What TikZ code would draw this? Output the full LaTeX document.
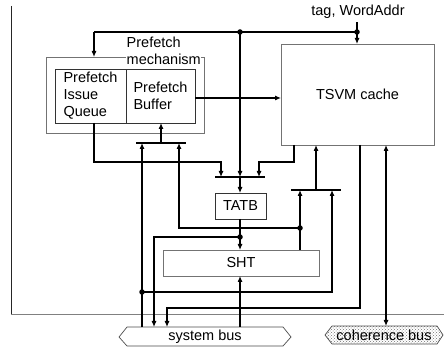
\documentclass[tikz,border=0pt]{standalone}
\usepackage{fontspec}
\setmainfont{Liberation Sans}
\usetikzlibrary{arrows.meta,patterns}
\begin{document}
\begin{tikzpicture}[x=1pt,y=-1pt,
  font=\fontsize{14.5}{17}\selectfont,
  wire/.style={line width=1.1pt},
  arr/.style={wire,-{Latex[length=6pt,width=5pt]}},
  darr/.style={wire,{Latex[length=6pt,width=5pt]}-{Latex[length=6pt,width=5pt]}},
  busbar/.style={line width=2.2pt},
  jdot/.style={circle,fill=black,inner sep=0pt,minimum size=5.5pt},
  gbox/.style={draw=black!55,line width=0.8pt,inner sep=0pt,outer sep=0pt},
  dbox/.style={draw=black!80,line width=0.8pt,inner sep=0pt,outer sep=0pt},
  busline/.style={draw=black!70,line width=0.7pt},
]
\useasboundingbox (0,0) rectangle (444,352);
% frame
\draw[line width=0.9pt,black!85] (11,6) -- (11,314);
\draw[line width=0.8pt,black!50] (11,314) -- (444,314);

% boxes
\node[gbox,minimum width=158pt,minimum height=76pt] (pm) at (125,95) {};
\node[dbox,minimum width=71pt,minimum height=54pt,align=left] (piq) at (90.5,96) {Prefetch\\Issue\\Queue};
\node[dbox,minimum width=69pt,minimum height=54pt,align=left] (pb) at (160.5,96) {Prefetch\\Buffer};
\node[fill=white,inner sep=0.5pt,anchor=north west,align=left] (pmlabel) at (126,36) {Prefetch\\mechanism};
\node[gbox,minimum width=153pt,minimum height=101pt] (tsvm) at (357.5,94.5) {TSVM cache};
\node[dbox,minimum width=51pt,minimum height=26pt] (tatb) at (240.5,206) {TATB};
\node[gbox,minimum width=156pt,minimum height=26pt] (sht) at (241,263) {SHT};
\node (tag) at (358,12) {tag, WordAddr};

% buses
\draw[busline,fill=white] (119,337) -- (127,327) -- (283,327) -- (291,337) -- (283,346) -- (127,346) -- cycle;
\node[inner sep=1pt] (sbus) at (205,337) {system bus};
\draw[busline,pattern=crosshatch dots,pattern color=black!55] (325,335) -- (332,326) -- (437,326) -- (443,335) -- (437,344) -- (332,344) -- cycle;
\node[inner sep=1pt] (cbus) at (384,335) {coherence bus};
\coordinate (cbtop) at (386,326);

% bars
\coordinate (pbar) at (161,143);
\coordinate (tbar) at (240,177);
\coordinate (rbar) at (316,190);
\draw[busbar] (136,143) -- (186,143);
\draw[busbar] (215,177) -- (265,177);
\draw[busbar] (291,190) -- (341,190);

% junctions
\coordinate (jt) at (357,32);
\coordinate (jm) at (240,32);
\coordinate (jl) at (94,32);
\coordinate (j1) at (240,237);
\coordinate (j2) at (300,228);
\coordinate (j3) at (142,292);

% top wires
\draw[wire] (tag.south -| jt) -- (jt);
\draw[arr] (jt) -- (tsvm.north -| jt);
\draw[wire] (jt) -- (jl);
\draw[arr] (jl) -- (jl |- pm.north);
\draw[arr] (jm) -- (jm |- tbar);

% into TATB bar
\draw[arr] (piq.south -| jl) -- (94,162) -- (221,162) -- (221,177);
\draw[arr] (tsvm.south -| 294,0) -- (294,162) -- (259,162) -- (259,177);
\draw[arr] (pb.east |- 0,98) -- (tsvm.west |- 0,98);

% TATB / SHT
\draw[arr] (tbar) -- (tatb.north -| tbar);
\draw[wire] (tatb.south -| j1) -- (j1);
\draw[arr] (j1) -- (sht.north -| j1);
\draw[arr] (j1) -- (154,237) -- (154,327);
\draw[wire] (sht.north -| j2) -- (j2);
\draw[arr] (j2) -- (j2 |- rbar);
\draw[arr] (j2) -- (179,228) -- (179,143);
\draw[arr] (pbar) -- (pb.south -| pbar);

% system bus wires
\draw[wire] (142,327) -- (j3);
\draw[arr] (j3) -- (j3 |- pbar);
\draw[arr] (j3) -- (332,292) -- (332,190);
\draw[arr] (rbar) -- (tsvm.south -| rbar);
\draw[arr] (tsvm.south -| 360,0) -- (360,308) -- (167,308) -- (167,327);
\draw[arr] (240,327) -- (sht.south -| 240,0);
\draw[darr] (cbtop) -- (tsvm.south -| cbtop);

% dots
\foreach \c in {jt,jm,j1,j2,j3} \node[jdot] at (\c) {};
\end{tikzpicture}
\end{document}
